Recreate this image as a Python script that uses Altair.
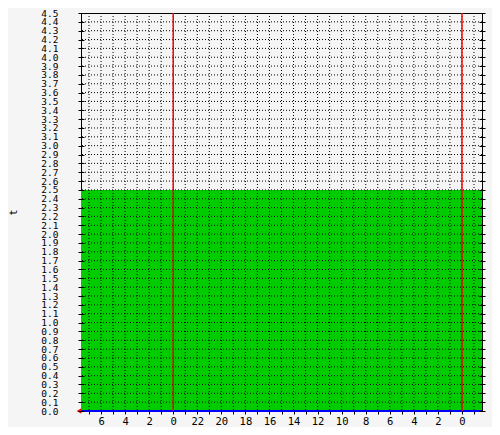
import altair as alt
import pandas as pd

# ---- data ----
hours = [-31.667, 1.667]          # x extent, hours relative to last midnight
t_values = [2.5, 2.5]             # series "t"
base_values = [0.0, 0.0]          # blue baseline series
midnights = [-24, 0]              # red vertical lines
x_grid_hours = list(range(-31, 2))
x_label_pos = [-30, -28, -26, -24, -22, -20, -18, -16, -14, -12, -10, -8, -6, -4, -2, 0]
x_label_txt = ["6", "4", "2", "0", "22", "20", "18", "16", "14", "12", "10", "8", "6", "4", "2", "0"]
y_ticks = [round(i * 0.1, 1) for i in range(46)]

df = pd.DataFrame({"h": hours, "t": t_values, "b": base_values})
df_mid = pd.DataFrame({"h": midnights})
df_vgrid = pd.DataFrame({"h": x_grid_hours})
df_hgrid = pd.DataFrame({"y": y_ticks[1:-1]})

FONT = "DejaVu Sans Mono"
label_expr = ""
for p, s in zip(x_label_pos, x_label_txt):
    label_expr += f"datum.value == {p} ? '{s}' : "
label_expr += "''"

xscale = alt.Scale(domain=[hours[0], hours[1]], nice=False, zero=False)
yscale = alt.Scale(domain=[0, 4.5], nice=False, zero=False)

x_axis = alt.Axis(
    values=x_grid_hours, labelExpr=label_expr, title=None, grid=False,
    tickSize=3, tickColor="black", domain=False,
    labelFont=FONT, labelFontSize=10.5, labelColor="black", labelPadding=2,
    labelFlush=False, labelOverlap=False, zindex=1,
)
y_axis = alt.Axis(
    values=y_ticks, format=".1f", title="t", grid=False,
    tickSize=6, offset=-3, tickColor="black", domain=False,
    labelFont=FONT, labelFontSize=9.5, labelColor="black", labelPadding=20,
    labelFlush=False, labelOverlap=False, zindex=1,
    titleFont=FONT, titleFontSize=10, titleFontWeight="normal", titleColor="black",
    titlePadding=22,
)
y_axis_right = alt.Axis(
    values=y_ticks, labels=False, title=None, grid=False,
    tickSize=6, offset=-3, tickColor="black", domain=False, orient="right", zindex=1,
)

area = alt.Chart(df).mark_area(color="#00CC00", opacity=1).encode(
    x=alt.X("h:Q", scale=xscale, axis=x_axis),
    y=alt.Y("t:Q", scale=yscale, axis=y_axis),
)
hgrid = alt.Chart(df_hgrid).mark_rule(color="black", strokeWidth=1, strokeDash=[1, 2]).encode(
    y=alt.Y("y:Q", scale=yscale, axis=None),
)
vgrid = alt.Chart(df_vgrid).mark_rule(color="black", strokeWidth=1, strokeDash=[1, 2]).encode(
    x=alt.X("h:Q", scale=xscale, axis=x_axis),
)
rules = alt.Chart(df_mid).mark_rule(color="#FF0000", strokeWidth=1.5).encode(
    x=alt.X("h:Q", scale=xscale, axis=x_axis),
)
base = alt.Chart(df).mark_line(color="#0000FF", strokeWidth=2).encode(
    x=alt.X("h:Q", scale=xscale, axis=x_axis),
    y=alt.Y("b:Q", scale=yscale, axis=y_axis_right),
)
arrow = alt.Chart(df.iloc[[0]]).mark_point(
    shape="triangle-left", filled=True, color="#FF0000", size=30, opacity=1, xOffset=-2
).encode(
    x=alt.X("h:Q", scale=xscale, axis=x_axis),
    y=alt.Y("b:Q", scale=yscale, axis=None),
)

chart = alt.layer(area, base, hgrid, vgrid, rules, arrow).resolve_axis(y="independent").properties(
    width=401, height=398,
    autosize=alt.AutoSizeParams(type="none"),
    padding={"left": 73, "top": 5, "right": 10, "bottom": 16},
    background="#F5F5F5",
).configure_view(
    stroke="black", strokeWidth=1, fill="#F5F5F5",
)

chart.save("out.html", embed_options={"renderer": "svg", "actions": False})
